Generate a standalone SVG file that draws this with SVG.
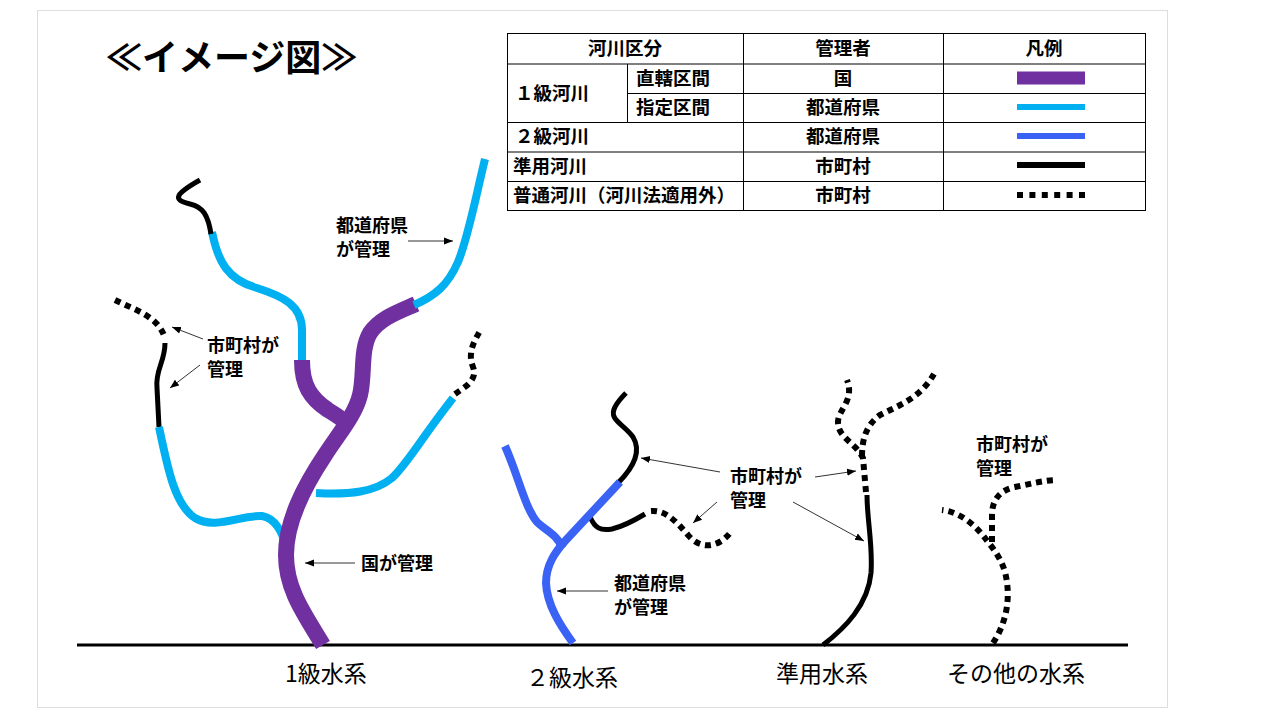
<svg xmlns="http://www.w3.org/2000/svg" width="1280" height="720" viewBox="0 0 1280 720">
<defs>
<marker id="ah" viewBox="0 0 10 10" refX="10" refY="5" markerWidth="9" markerHeight="9" markerUnits="userSpaceOnUse" orient="auto">
<path d="M0,1 L10,5 L0,9 z" fill="#000"/>
</marker>
<style>
.t{font-family:"Noto Sans CJK JP","Noto Sans",sans-serif;fill:#000}
.tb{font-size:18.5px;font-weight:bold}
.lbl{font-size:18px;font-weight:bold}
.ax{font-size:23px;font-weight:normal}
.grid{stroke:#000;stroke-width:1;fill:none}
.r{fill:none;stroke-linecap:butt;stroke-linejoin:round}
.pu{stroke:#7030A0;stroke-width:16}
.cy{stroke:#00B0F0;stroke-width:8}
.bl{stroke:#3A62F5;stroke-width:8}
.bk{stroke:#000;stroke-width:5}
.dt{stroke:#000;stroke-width:6;stroke-dasharray:6 5}
.ar{stroke:#333;stroke-width:1;fill:none;marker-end:url(#ah)}
</style>
</defs>
<rect x="37.5" y="10.5" width="1130" height="697" fill="#fff" stroke="#ddd" stroke-width="1"/>
<text class="t" x="106" y="71" font-size="36" font-weight="bold">≪イメージ図≫</text>

<g id="legend-table">
<rect class="grid" x="507.5" y="33.5" width="638" height="177"/>
<line class="grid" x1="743.5" y1="33.5" x2="743.5" y2="210.5"/>
<line class="grid" x1="943.5" y1="33.5" x2="943.5" y2="210.5"/>
<line class="grid" x1="627.5" y1="64" x2="627.5" y2="122.5"/>
<line class="grid" x1="507.5" y1="64" x2="1145.5" y2="64"/>
<line class="grid" x1="627.5" y1="93.5" x2="1145.5" y2="93.5"/>
<line class="grid" x1="507.5" y1="122.5" x2="1145.5" y2="122.5"/>
<line class="grid" x1="507.5" y1="152" x2="1145.5" y2="152"/>
<line class="grid" x1="507.5" y1="181.5" x2="1145.5" y2="181.5"/>
<text class="t tb" x="625" y="55" text-anchor="middle">河川区分</text>
<text class="t tb" x="843" y="55" text-anchor="middle">管理者</text>
<text class="t tb" x="1044" y="55" text-anchor="middle">凡例</text>
<text class="t tb" x="515" y="100">１級河川</text>
<text class="t tb" x="636" y="85">直轄区間</text>
<text class="t tb" x="636" y="114">指定区間</text>
<text class="t tb" x="843" y="85" text-anchor="middle">国</text>
<text class="t tb" x="843" y="114" text-anchor="middle">都道府県</text>
<text class="t tb" x="515" y="143">２級河川</text>
<text class="t tb" x="843" y="143" text-anchor="middle">都道府県</text>
<text class="t tb" x="513" y="173">準用河川</text>
<text class="t tb" x="843" y="173" text-anchor="middle">市町村</text>
<text class="t tb" x="513" y="202">普通河川（河川法適用外）</text>
<text class="t tb" x="843" y="202" text-anchor="middle">市町村</text>
<line x1="1017" y1="78" x2="1085" y2="78" stroke="#7030A0" stroke-width="13"/>
<line x1="1017" y1="107" x2="1085" y2="107" stroke="#00B0F0" stroke-width="6"/>
<line x1="1017" y1="136" x2="1085" y2="136" stroke="#3A62F5" stroke-width="6"/>
<line x1="1017" y1="165" x2="1085" y2="165" stroke="#000" stroke-width="6"/>
<line x1="1017" y1="195" x2="1085" y2="195" stroke="#000" stroke-width="6" stroke-dasharray="6 6.4"/>
</g>

<g id="ground">
<line x1="77" y1="645" x2="1128" y2="645" stroke="#000" stroke-width="3"/>
</g>

<g id="system1">
<path class="r cy" d="M316,493 C350,495 375,492 392,478 C408,463 420,440 453,398"/>
<path class="r dt" d="M455,394 C465,387 478,380 473,367 C467,352 475,340 480,331"/>
<path class="r cy" d="M302,362 L302,330 C302,305 282,296 257,288 C228,280 218,262 212,232"/>
<path class="r bk" d="M211,234 C208,215 203,207 190,204 C172,200 175,194 200,180"/>
<path class="r dt" d="M115,300 C135,310 158,316 165,338"/>
<path class="r bk" d="M165,343 C165,362 155,370 157,388 L159,427"/>
<path class="r cy" d="M159,427 C168,470 175,505 195,518 C215,530 240,515 262,516 C275,518 283,533 285,545"/>
<path class="r pu" d="M302,360 C302,385 310,398 328,410 C338,416 344,420 350,426"/>
<path class="r pu" d="M323,645 C305,615 286,590 286,555 C286,520 305,485 325,455 C340,432 355,415 360,395 C365,375 360,350 370,333 C380,318 398,312 416,304"/>
<path class="r cy" d="M414,305 C435,296 448,285 458,262 C468,238 475,200 485,159"/>
</g>

<g id="system2">
<path class="r bk" d="M618,483 C633,468 642,452 633,437 C624,424 608,420 615,407 C618,401 622,397 626,393"/>
<path class="r bk" d="M590,517 C595,528 600,531 612,529 C625,526 635,520 645,514"/>
<path class="r dt" d="M651,511 C665,510 675,520 688,535 C700,550 718,548 730,533"/>
<path class="r bl" d="M562,548 C558,535 545,530 537,522 C525,508 518,475 505,446"/>
<path class="r bl" d="M573,643 C560,625 547,605 546,583 C546,565 555,552 566,540 L620,482"/>
</g>

<g id="system3">
<path class="r bk" d="M823,645 C845,628 868,605 871,573 C873,545 867,520 867,495"/>
<path class="r dt" d="M866,492 L863,458 C855,442 838,438 838,422 C838,410 855,400 847,380"/>
<path class="r dt" d="M862,456 C862,440 866,425 880,415 C900,405 920,398 934,374"/>
</g>

<g id="system4">
<path class="r dt" d="M993,643 C1005,625 1012,600 1005,572 C1000,555 990,545 985,538 C975,525 960,512 942,510"/>
<path class="r dt" d="M992,542 L992,515 C992,500 1000,490 1015,487 C1030,484 1045,480 1057,480"/>
</g>

<g id="labels">
<text class="t lbl" x="336" y="232">都道府県</text>
<text class="t lbl" x="336" y="256">が管理</text>
<text class="t lbl" x="207" y="352">市町村が</text>
<text class="t lbl" x="207" y="376">管理</text>
<text class="t lbl" x="361" y="570">国が管理</text>
<text class="t lbl" x="614" y="590">都道府県</text>
<text class="t lbl" x="614" y="614">が管理</text>
<text class="t lbl" x="730" y="483">市町村が</text>
<text class="t lbl" x="730" y="507">管理</text>
<text class="t lbl" x="976" y="451">市町村が</text>
<text class="t lbl" x="976" y="475">管理</text>
<text class="t ax" x="326" y="682" text-anchor="middle">1級水系</text>
<text class="t ax" x="572" y="686" text-anchor="middle">２級水系</text>
<text class="t ax" x="822" y="682" text-anchor="middle">準用水系</text>
<text class="t ax" x="1016" y="682" text-anchor="middle">その他の水系</text>
</g>

<g id="connectors">
<line class="ar" x1="408" y1="241" x2="453" y2="241"/>
<line class="ar" x1="203" y1="339" x2="172" y2="327"/>
<line class="ar" x1="200" y1="365" x2="170" y2="388"/>
<line class="ar" x1="355" y1="563" x2="305" y2="563"/>
<line class="ar" x1="608" y1="591" x2="557" y2="591"/>
<line class="ar" x1="720" y1="472" x2="641" y2="458"/>
<line class="ar" x1="717" y1="502" x2="693" y2="523"/>
<line class="ar" x1="815" y1="477" x2="856" y2="471"/>
<line class="ar" x1="793" y1="502" x2="864" y2="541"/>
</g>
</svg>
